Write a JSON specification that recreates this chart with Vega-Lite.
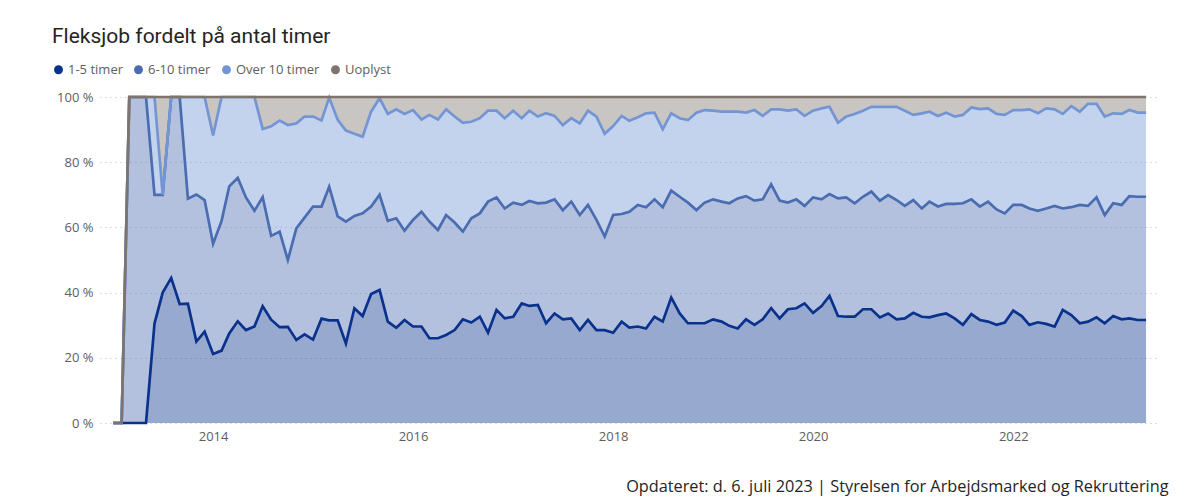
{
"$schema": "https://vega.github.io/schema/vega-lite/v6.json",
"width": 1057, "height": 326,
"autosize": {"type": "none"},
"padding": {"left": 100, "top": 97, "right": 42, "bottom": 74},
"background": "white",
"config": {"view": {"stroke": null}, "font": "Open Sans"},
"title": {"text": "Fleksjob fordelt på antal timer", "anchor": "start", "frame": "group", "orient": "top", "dx": -48, "offset": -1, "font": "Roboto", "fontSize": 21, "fontWeight": "normal", "color": "#252423", "baseline": "alphabetic"},
"data": {"values": [
{"t":"2013-01-01","k":"1-5 timer","v":0},{"t":"2013-01-01","k":"6-10 timer","v":0},{"t":"2013-01-01","k":"Over 10 timer","v":0},{"t":"2013-01-01","k":"Uoplyst","v":0},
{"t":"2013-02-01","k":"1-5 timer","v":0},{"t":"2013-02-01","k":"6-10 timer","v":0},{"t":"2013-02-01","k":"Over 10 timer","v":0},{"t":"2013-02-01","k":"Uoplyst","v":0},
{"t":"2013-03-01","k":"1-5 timer","v":0},{"t":"2013-03-01","k":"6-10 timer","v":100},{"t":"2013-03-01","k":"Over 10 timer","v":0},{"t":"2013-03-01","k":"Uoplyst","v":0},
{"t":"2013-04-01","k":"1-5 timer","v":0},{"t":"2013-04-01","k":"6-10 timer","v":100},{"t":"2013-04-01","k":"Over 10 timer","v":0},{"t":"2013-04-01","k":"Uoplyst","v":0},
{"t":"2013-05-01","k":"1-5 timer","v":0},{"t":"2013-05-01","k":"6-10 timer","v":100},{"t":"2013-05-01","k":"Over 10 timer","v":0},{"t":"2013-05-01","k":"Uoplyst","v":0},
{"t":"2013-06-01","k":"1-5 timer","v":30.5},{"t":"2013-06-01","k":"6-10 timer","v":39.5},{"t":"2013-06-01","k":"Over 10 timer","v":30},{"t":"2013-06-01","k":"Uoplyst","v":0},
{"t":"2013-07-01","k":"1-5 timer","v":40},{"t":"2013-07-01","k":"6-10 timer","v":30},{"t":"2013-07-01","k":"Over 10 timer","v":0},{"t":"2013-07-01","k":"Uoplyst","v":30},
{"t":"2013-08-01","k":"1-5 timer","v":44.5},{"t":"2013-08-01","k":"6-10 timer","v":55.5},{"t":"2013-08-01","k":"Over 10 timer","v":0},{"t":"2013-08-01","k":"Uoplyst","v":0},
{"t":"2013-09-01","k":"1-5 timer","v":36.5},{"t":"2013-09-01","k":"6-10 timer","v":63.5},{"t":"2013-09-01","k":"Over 10 timer","v":0},{"t":"2013-09-01","k":"Uoplyst","v":0},
{"t":"2013-10-01","k":"1-5 timer","v":36.6},{"t":"2013-10-01","k":"6-10 timer","v":32.2},{"t":"2013-10-01","k":"Over 10 timer","v":31.2},{"t":"2013-10-01","k":"Uoplyst","v":0},
{"t":"2013-11-01","k":"1-5 timer","v":25},{"t":"2013-11-01","k":"6-10 timer","v":45.1},{"t":"2013-11-01","k":"Over 10 timer","v":29.9},{"t":"2013-11-01","k":"Uoplyst","v":0},
{"t":"2013-12-01","k":"1-5 timer","v":28},{"t":"2013-12-01","k":"6-10 timer","v":40.4},{"t":"2013-12-01","k":"Over 10 timer","v":31.6},{"t":"2013-12-01","k":"Uoplyst","v":0},
{"t":"2014-01-01","k":"1-5 timer","v":21.2},{"t":"2014-01-01","k":"6-10 timer","v":33.8},{"t":"2014-01-01","k":"Over 10 timer","v":33.2},{"t":"2014-01-01","k":"Uoplyst","v":11.8},
{"t":"2014-02-01","k":"1-5 timer","v":22.2},{"t":"2014-02-01","k":"6-10 timer","v":39.8},{"t":"2014-02-01","k":"Over 10 timer","v":38},{"t":"2014-02-01","k":"Uoplyst","v":0},
{"t":"2014-03-01","k":"1-5 timer","v":27.5},{"t":"2014-03-01","k":"6-10 timer","v":45.1},{"t":"2014-03-01","k":"Over 10 timer","v":27.4},{"t":"2014-03-01","k":"Uoplyst","v":0},
{"t":"2014-04-01","k":"1-5 timer","v":31.2},{"t":"2014-04-01","k":"6-10 timer","v":44},{"t":"2014-04-01","k":"Over 10 timer","v":24.8},{"t":"2014-04-01","k":"Uoplyst","v":0},
{"t":"2014-05-01","k":"1-5 timer","v":28.5},{"t":"2014-05-01","k":"6-10 timer","v":40.7},{"t":"2014-05-01","k":"Over 10 timer","v":30.8},{"t":"2014-05-01","k":"Uoplyst","v":0},
{"t":"2014-06-01","k":"1-5 timer","v":29.6},{"t":"2014-06-01","k":"6-10 timer","v":35.5},{"t":"2014-06-01","k":"Over 10 timer","v":34.9},{"t":"2014-06-01","k":"Uoplyst","v":0},
{"t":"2014-07-01","k":"1-5 timer","v":35.8},{"t":"2014-07-01","k":"6-10 timer","v":33.5},{"t":"2014-07-01","k":"Over 10 timer","v":20.9},{"t":"2014-07-01","k":"Uoplyst","v":9.8},
{"t":"2014-08-01","k":"1-5 timer","v":31.7},{"t":"2014-08-01","k":"6-10 timer","v":25.7},{"t":"2014-08-01","k":"Over 10 timer","v":33.6},{"t":"2014-08-01","k":"Uoplyst","v":9},
{"t":"2014-09-01","k":"1-5 timer","v":29.4},{"t":"2014-09-01","k":"6-10 timer","v":29.3},{"t":"2014-09-01","k":"Over 10 timer","v":34.1},{"t":"2014-09-01","k":"Uoplyst","v":7.2},
{"t":"2014-10-01","k":"1-5 timer","v":29.5},{"t":"2014-10-01","k":"6-10 timer","v":20.5},{"t":"2014-10-01","k":"Over 10 timer","v":41.4},{"t":"2014-10-01","k":"Uoplyst","v":8.6},
{"t":"2014-11-01","k":"1-5 timer","v":25.5},{"t":"2014-11-01","k":"6-10 timer","v":34.2},{"t":"2014-11-01","k":"Over 10 timer","v":32.2},{"t":"2014-11-01","k":"Uoplyst","v":8.1},
{"t":"2014-12-01","k":"1-5 timer","v":27.2},{"t":"2014-12-01","k":"6-10 timer","v":35.8},{"t":"2014-12-01","k":"Over 10 timer","v":31},{"t":"2014-12-01","k":"Uoplyst","v":6},
{"t":"2015-01-01","k":"1-5 timer","v":25.6},{"t":"2015-01-01","k":"6-10 timer","v":40.8},{"t":"2015-01-01","k":"Over 10 timer","v":27.6},{"t":"2015-01-01","k":"Uoplyst","v":6},
{"t":"2015-02-01","k":"1-5 timer","v":32},{"t":"2015-02-01","k":"6-10 timer","v":34.4},{"t":"2015-02-01","k":"Over 10 timer","v":26.4},{"t":"2015-02-01","k":"Uoplyst","v":7.2},
{"t":"2015-03-01","k":"1-5 timer","v":31.5},{"t":"2015-03-01","k":"6-10 timer","v":41},{"t":"2015-03-01","k":"Over 10 timer","v":27.3},{"t":"2015-03-01","k":"Uoplyst","v":0.2},
{"t":"2015-04-01","k":"1-5 timer","v":31.5},{"t":"2015-04-01","k":"6-10 timer","v":31.9},{"t":"2015-04-01","k":"Over 10 timer","v":29.6},{"t":"2015-04-01","k":"Uoplyst","v":7},
{"t":"2015-05-01","k":"1-5 timer","v":24.4},{"t":"2015-05-01","k":"6-10 timer","v":37.4},{"t":"2015-05-01","k":"Over 10 timer","v":27.9},{"t":"2015-05-01","k":"Uoplyst","v":10.3},
{"t":"2015-06-01","k":"1-5 timer","v":35.2},{"t":"2015-06-01","k":"6-10 timer","v":28.3},{"t":"2015-06-01","k":"Over 10 timer","v":25.2},{"t":"2015-06-01","k":"Uoplyst","v":11.3},
{"t":"2015-07-01","k":"1-5 timer","v":32.8},{"t":"2015-07-01","k":"6-10 timer","v":31.5},{"t":"2015-07-01","k":"Over 10 timer","v":23.5},{"t":"2015-07-01","k":"Uoplyst","v":12.2},
{"t":"2015-08-01","k":"1-5 timer","v":39.6},{"t":"2015-08-01","k":"6-10 timer","v":26.8},{"t":"2015-08-01","k":"Over 10 timer","v":29.1},{"t":"2015-08-01","k":"Uoplyst","v":4.5},
{"t":"2015-09-01","k":"1-5 timer","v":40.8},{"t":"2015-09-01","k":"6-10 timer","v":29.2},{"t":"2015-09-01","k":"Over 10 timer","v":29.6},{"t":"2015-09-01","k":"Uoplyst","v":0.4},
{"t":"2015-10-01","k":"1-5 timer","v":31.1},{"t":"2015-10-01","k":"6-10 timer","v":30.9},{"t":"2015-10-01","k":"Over 10 timer","v":32.8},{"t":"2015-10-01","k":"Uoplyst","v":5.2},
{"t":"2015-11-01","k":"1-5 timer","v":29.2},{"t":"2015-11-01","k":"6-10 timer","v":33.6},{"t":"2015-11-01","k":"Over 10 timer","v":33.4},{"t":"2015-11-01","k":"Uoplyst","v":3.8},
{"t":"2015-12-01","k":"1-5 timer","v":31.6},{"t":"2015-12-01","k":"6-10 timer","v":27.4},{"t":"2015-12-01","k":"Over 10 timer","v":35.8},{"t":"2015-12-01","k":"Uoplyst","v":5.2},
{"t":"2016-01-01","k":"1-5 timer","v":29.6},{"t":"2016-01-01","k":"6-10 timer","v":32.7},{"t":"2016-01-01","k":"Over 10 timer","v":33.7},{"t":"2016-01-01","k":"Uoplyst","v":4},
{"t":"2016-02-01","k":"1-5 timer","v":29.6},{"t":"2016-02-01","k":"6-10 timer","v":35.2},{"t":"2016-02-01","k":"Over 10 timer","v":28.3},{"t":"2016-02-01","k":"Uoplyst","v":6.9},
{"t":"2016-03-01","k":"1-5 timer","v":26},{"t":"2016-03-01","k":"6-10 timer","v":35.8},{"t":"2016-03-01","k":"Over 10 timer","v":32.7},{"t":"2016-03-01","k":"Uoplyst","v":5.5},
{"t":"2016-04-01","k":"1-5 timer","v":26},{"t":"2016-04-01","k":"6-10 timer","v":33.2},{"t":"2016-04-01","k":"Over 10 timer","v":33.9},{"t":"2016-04-01","k":"Uoplyst","v":6.9},
{"t":"2016-05-01","k":"1-5 timer","v":27},{"t":"2016-05-01","k":"6-10 timer","v":36.8},{"t":"2016-05-01","k":"Over 10 timer","v":32.4},{"t":"2016-05-01","k":"Uoplyst","v":3.8},
{"t":"2016-06-01","k":"1-5 timer","v":28.5},{"t":"2016-06-01","k":"6-10 timer","v":33},{"t":"2016-06-01","k":"Over 10 timer","v":32.5},{"t":"2016-06-01","k":"Uoplyst","v":6},
{"t":"2016-07-01","k":"1-5 timer","v":31.8},{"t":"2016-07-01","k":"6-10 timer","v":26.9},{"t":"2016-07-01","k":"Over 10 timer","v":33.4},{"t":"2016-07-01","k":"Uoplyst","v":7.9},
{"t":"2016-08-01","k":"1-5 timer","v":30.8},{"t":"2016-08-01","k":"6-10 timer","v":32},{"t":"2016-08-01","k":"Over 10 timer","v":29.6},{"t":"2016-08-01","k":"Uoplyst","v":7.6},
{"t":"2016-09-01","k":"1-5 timer","v":32.6},{"t":"2016-09-01","k":"6-10 timer","v":31.7},{"t":"2016-09-01","k":"Over 10 timer","v":29.2},{"t":"2016-09-01","k":"Uoplyst","v":6.5},
{"t":"2016-10-01","k":"1-5 timer","v":27.7},{"t":"2016-10-01","k":"6-10 timer","v":40.2},{"t":"2016-10-01","k":"Over 10 timer","v":27.9},{"t":"2016-10-01","k":"Uoplyst","v":4.2},
{"t":"2016-11-01","k":"1-5 timer","v":34.7},{"t":"2016-11-01","k":"6-10 timer","v":34.5},{"t":"2016-11-01","k":"Over 10 timer","v":26.6},{"t":"2016-11-01","k":"Uoplyst","v":4.2},
{"t":"2016-12-01","k":"1-5 timer","v":32.1},{"t":"2016-12-01","k":"6-10 timer","v":33.7},{"t":"2016-12-01","k":"Over 10 timer","v":27.7},{"t":"2016-12-01","k":"Uoplyst","v":6.5},
{"t":"2017-01-01","k":"1-5 timer","v":32.6},{"t":"2017-01-01","k":"6-10 timer","v":35},{"t":"2017-01-01","k":"Over 10 timer","v":28.2},{"t":"2017-01-01","k":"Uoplyst","v":4.2},
{"t":"2017-02-01","k":"1-5 timer","v":36.7},{"t":"2017-02-01","k":"6-10 timer","v":30.2},{"t":"2017-02-01","k":"Over 10 timer","v":26.6},{"t":"2017-02-01","k":"Uoplyst","v":6.5},
{"t":"2017-03-01","k":"1-5 timer","v":35.9},{"t":"2017-03-01","k":"6-10 timer","v":32.2},{"t":"2017-03-01","k":"Over 10 timer","v":27.7},{"t":"2017-03-01","k":"Uoplyst","v":4.2},
{"t":"2017-04-01","k":"1-5 timer","v":36.2},{"t":"2017-04-01","k":"6-10 timer","v":31.2},{"t":"2017-04-01","k":"Over 10 timer","v":26.6},{"t":"2017-04-01","k":"Uoplyst","v":6},
{"t":"2017-05-01","k":"1-5 timer","v":30.6},{"t":"2017-05-01","k":"6-10 timer","v":37},{"t":"2017-05-01","k":"Over 10 timer","v":27.4},{"t":"2017-05-01","k":"Uoplyst","v":5},
{"t":"2017-06-01","k":"1-5 timer","v":33.6},{"t":"2017-06-01","k":"6-10 timer","v":35},{"t":"2017-06-01","k":"Over 10 timer","v":25.6},{"t":"2017-06-01","k":"Uoplyst","v":5.8},
{"t":"2017-07-01","k":"1-5 timer","v":31.8},{"t":"2017-07-01","k":"6-10 timer","v":33.5},{"t":"2017-07-01","k":"Over 10 timer","v":26.1},{"t":"2017-07-01","k":"Uoplyst","v":8.6},
{"t":"2017-08-01","k":"1-5 timer","v":32.1},{"t":"2017-08-01","k":"6-10 timer","v":35.8},{"t":"2017-08-01","k":"Over 10 timer","v":25.6},{"t":"2017-08-01","k":"Uoplyst","v":6.5},
{"t":"2017-09-01","k":"1-5 timer","v":28.5},{"t":"2017-09-01","k":"6-10 timer","v":35.3},{"t":"2017-09-01","k":"Over 10 timer","v":28.1},{"t":"2017-09-01","k":"Uoplyst","v":8.1},
{"t":"2017-10-01","k":"1-5 timer","v":31.6},{"t":"2017-10-01","k":"6-10 timer","v":35.3},{"t":"2017-10-01","k":"Over 10 timer","v":28.9},{"t":"2017-10-01","k":"Uoplyst","v":4.2},
{"t":"2017-11-01","k":"1-5 timer","v":28.5},{"t":"2017-11-01","k":"6-10 timer","v":33.8},{"t":"2017-11-01","k":"Over 10 timer","v":31.7},{"t":"2017-11-01","k":"Uoplyst","v":6},
{"t":"2017-12-01","k":"1-5 timer","v":28.5},{"t":"2017-12-01","k":"6-10 timer","v":28.7},{"t":"2017-12-01","k":"Over 10 timer","v":31.5},{"t":"2017-12-01","k":"Uoplyst","v":11.3},
{"t":"2018-01-01","k":"1-5 timer","v":27.7},{"t":"2018-01-01","k":"6-10 timer","v":36.1},{"t":"2018-01-01","k":"Over 10 timer","v":27.3},{"t":"2018-01-01","k":"Uoplyst","v":8.9},
{"t":"2018-02-01","k":"1-5 timer","v":31.1},{"t":"2018-02-01","k":"6-10 timer","v":33},{"t":"2018-02-01","k":"Over 10 timer","v":30.1},{"t":"2018-02-01","k":"Uoplyst","v":5.8},
{"t":"2018-03-01","k":"1-5 timer","v":29.3},{"t":"2018-03-01","k":"6-10 timer","v":35.5},{"t":"2018-03-01","k":"Over 10 timer","v":27.9},{"t":"2018-03-01","k":"Uoplyst","v":7.3},
{"t":"2018-04-01","k":"1-5 timer","v":29.6},{"t":"2018-04-01","k":"6-10 timer","v":37.3},{"t":"2018-04-01","k":"Over 10 timer","v":26.9},{"t":"2018-04-01","k":"Uoplyst","v":6.2},
{"t":"2018-05-01","k":"1-5 timer","v":29},{"t":"2018-05-01","k":"6-10 timer","v":37.2},{"t":"2018-05-01","k":"Over 10 timer","v":28.8},{"t":"2018-05-01","k":"Uoplyst","v":5},
{"t":"2018-06-01","k":"1-5 timer","v":32.6},{"t":"2018-06-01","k":"6-10 timer","v":36},{"t":"2018-06-01","k":"Over 10 timer","v":26.6},{"t":"2018-06-01","k":"Uoplyst","v":4.8},
{"t":"2018-07-01","k":"1-5 timer","v":31.1},{"t":"2018-07-01","k":"6-10 timer","v":35.1},{"t":"2018-07-01","k":"Over 10 timer","v":23.9},{"t":"2018-07-01","k":"Uoplyst","v":9.9},
{"t":"2018-08-01","k":"1-5 timer","v":38.5},{"t":"2018-08-01","k":"6-10 timer","v":32.8},{"t":"2018-08-01","k":"Over 10 timer","v":23.7},{"t":"2018-08-01","k":"Uoplyst","v":5},
{"t":"2018-09-01","k":"1-5 timer","v":33.6},{"t":"2018-09-01","k":"6-10 timer","v":35.8},{"t":"2018-09-01","k":"Over 10 timer","v":24.1},{"t":"2018-09-01","k":"Uoplyst","v":6.5},
{"t":"2018-10-01","k":"1-5 timer","v":30.6},{"t":"2018-10-01","k":"6-10 timer","v":37},{"t":"2018-10-01","k":"Over 10 timer","v":25.3},{"t":"2018-10-01","k":"Uoplyst","v":7.1},
{"t":"2018-11-01","k":"1-5 timer","v":30.6},{"t":"2018-11-01","k":"6-10 timer","v":34.7},{"t":"2018-11-01","k":"Over 10 timer","v":29.9},{"t":"2018-11-01","k":"Uoplyst","v":4.8},
{"t":"2018-12-01","k":"1-5 timer","v":30.6},{"t":"2018-12-01","k":"6-10 timer","v":37},{"t":"2018-12-01","k":"Over 10 timer","v":28.4},{"t":"2018-12-01","k":"Uoplyst","v":4},
{"t":"2019-01-01","k":"1-5 timer","v":31.8},{"t":"2019-01-01","k":"6-10 timer","v":36.8},{"t":"2019-01-01","k":"Over 10 timer","v":27.2},{"t":"2019-01-01","k":"Uoplyst","v":4.2},
{"t":"2019-02-01","k":"1-5 timer","v":31.1},{"t":"2019-02-01","k":"6-10 timer","v":36.8},{"t":"2019-02-01","k":"Over 10 timer","v":27.6},{"t":"2019-02-01","k":"Uoplyst","v":4.5},
{"t":"2019-03-01","k":"1-5 timer","v":29.8},{"t":"2019-03-01","k":"6-10 timer","v":37.6},{"t":"2019-03-01","k":"Over 10 timer","v":28.1},{"t":"2019-03-01","k":"Uoplyst","v":4.5},
{"t":"2019-04-01","k":"1-5 timer","v":29},{"t":"2019-04-01","k":"6-10 timer","v":39.9},{"t":"2019-04-01","k":"Over 10 timer","v":26.6},{"t":"2019-04-01","k":"Uoplyst","v":4.5},
{"t":"2019-05-01","k":"1-5 timer","v":31.8},{"t":"2019-05-01","k":"6-10 timer","v":37.8},{"t":"2019-05-01","k":"Over 10 timer","v":25.6},{"t":"2019-05-01","k":"Uoplyst","v":4.8},
{"t":"2019-06-01","k":"1-5 timer","v":30.1},{"t":"2019-06-01","k":"6-10 timer","v":38.1},{"t":"2019-06-01","k":"Over 10 timer","v":27.8},{"t":"2019-06-01","k":"Uoplyst","v":4},
{"t":"2019-07-01","k":"1-5 timer","v":31.8},{"t":"2019-07-01","k":"6-10 timer","v":36.8},{"t":"2019-07-01","k":"Over 10 timer","v":25.6},{"t":"2019-07-01","k":"Uoplyst","v":5.8},
{"t":"2019-08-01","k":"1-5 timer","v":35.2},{"t":"2019-08-01","k":"6-10 timer","v":38},{"t":"2019-08-01","k":"Over 10 timer","v":23},{"t":"2019-08-01","k":"Uoplyst","v":3.8},
{"t":"2019-09-01","k":"1-5 timer","v":32.1},{"t":"2019-09-01","k":"6-10 timer","v":36.1},{"t":"2019-09-01","k":"Over 10 timer","v":28},{"t":"2019-09-01","k":"Uoplyst","v":3.8},
{"t":"2019-10-01","k":"1-5 timer","v":34.9},{"t":"2019-10-01","k":"6-10 timer","v":32.7},{"t":"2019-10-01","k":"Over 10 timer","v":28.2},{"t":"2019-10-01","k":"Uoplyst","v":4.2},
{"t":"2019-11-01","k":"1-5 timer","v":35.2},{"t":"2019-11-01","k":"6-10 timer","v":33.4},{"t":"2019-11-01","k":"Over 10 timer","v":27.6},{"t":"2019-11-01","k":"Uoplyst","v":3.8},
{"t":"2019-12-01","k":"1-5 timer","v":36.7},{"t":"2019-12-01","k":"6-10 timer","v":29.9},{"t":"2019-12-01","k":"Over 10 timer","v":27.6},{"t":"2019-12-01","k":"Uoplyst","v":5.8},
{"t":"2020-01-01","k":"1-5 timer","v":33.8},{"t":"2020-01-01","k":"6-10 timer","v":35.4},{"t":"2020-01-01","k":"Over 10 timer","v":26.6},{"t":"2020-01-01","k":"Uoplyst","v":4.2},
{"t":"2020-02-01","k":"1-5 timer","v":35.9},{"t":"2020-02-01","k":"6-10 timer","v":32.7},{"t":"2020-02-01","k":"Over 10 timer","v":27.9},{"t":"2020-02-01","k":"Uoplyst","v":3.5},
{"t":"2020-03-01","k":"1-5 timer","v":39},{"t":"2020-03-01","k":"6-10 timer","v":31.2},{"t":"2020-03-01","k":"Over 10 timer","v":26.8},{"t":"2020-03-01","k":"Uoplyst","v":3},
{"t":"2020-04-01","k":"1-5 timer","v":32.8},{"t":"2020-04-01","k":"6-10 timer","v":36.1},{"t":"2020-04-01","k":"Over 10 timer","v":23.2},{"t":"2020-04-01","k":"Uoplyst","v":7.9},
{"t":"2020-05-01","k":"1-5 timer","v":32.6},{"t":"2020-05-01","k":"6-10 timer","v":36.6},{"t":"2020-05-01","k":"Over 10 timer","v":24.8},{"t":"2020-05-01","k":"Uoplyst","v":6},
{"t":"2020-06-01","k":"1-5 timer","v":32.6},{"t":"2020-06-01","k":"6-10 timer","v":34.8},{"t":"2020-06-01","k":"Over 10 timer","v":27.4},{"t":"2020-06-01","k":"Uoplyst","v":5.2},
{"t":"2020-07-01","k":"1-5 timer","v":34.9},{"t":"2020-07-01","k":"6-10 timer","v":34.5},{"t":"2020-07-01","k":"Over 10 timer","v":26.4},{"t":"2020-07-01","k":"Uoplyst","v":4.2},
{"t":"2020-08-01","k":"1-5 timer","v":34.9},{"t":"2020-08-01","k":"6-10 timer","v":36.1},{"t":"2020-08-01","k":"Over 10 timer","v":26},{"t":"2020-08-01","k":"Uoplyst","v":3},
{"t":"2020-09-01","k":"1-5 timer","v":32.4},{"t":"2020-09-01","k":"6-10 timer","v":35.8},{"t":"2020-09-01","k":"Over 10 timer","v":28.8},{"t":"2020-09-01","k":"Uoplyst","v":3},
{"t":"2020-10-01","k":"1-5 timer","v":33.6},{"t":"2020-10-01","k":"6-10 timer","v":36.3},{"t":"2020-10-01","k":"Over 10 timer","v":27.1},{"t":"2020-10-01","k":"Uoplyst","v":3},
{"t":"2020-11-01","k":"1-5 timer","v":31.8},{"t":"2020-11-01","k":"6-10 timer","v":36.6},{"t":"2020-11-01","k":"Over 10 timer","v":28.6},{"t":"2020-11-01","k":"Uoplyst","v":3},
{"t":"2020-12-01","k":"1-5 timer","v":32.1},{"t":"2020-12-01","k":"6-10 timer","v":34.5},{"t":"2020-12-01","k":"Over 10 timer","v":29.2},{"t":"2020-12-01","k":"Uoplyst","v":4.2},
{"t":"2021-01-01","k":"1-5 timer","v":33.8},{"t":"2021-01-01","k":"6-10 timer","v":34.6},{"t":"2021-01-01","k":"Over 10 timer","v":26.1},{"t":"2021-01-01","k":"Uoplyst","v":5.5},
{"t":"2021-02-01","k":"1-5 timer","v":32.6},{"t":"2021-02-01","k":"6-10 timer","v":33.2},{"t":"2021-02-01","k":"Over 10 timer","v":29.2},{"t":"2021-02-01","k":"Uoplyst","v":5},
{"t":"2021-03-01","k":"1-5 timer","v":32.4},{"t":"2021-03-01","k":"6-10 timer","v":35.5},{"t":"2021-03-01","k":"Over 10 timer","v":27.6},{"t":"2021-03-01","k":"Uoplyst","v":4.5},
{"t":"2021-04-01","k":"1-5 timer","v":33.1},{"t":"2021-04-01","k":"6-10 timer","v":33.3},{"t":"2021-04-01","k":"Over 10 timer","v":27.8},{"t":"2021-04-01","k":"Uoplyst","v":5.8},
{"t":"2021-05-01","k":"1-5 timer","v":33.6},{"t":"2021-05-01","k":"6-10 timer","v":33.6},{"t":"2021-05-01","k":"Over 10 timer","v":28},{"t":"2021-05-01","k":"Uoplyst","v":4.8},
{"t":"2021-06-01","k":"1-5 timer","v":32.1},{"t":"2021-06-01","k":"6-10 timer","v":35.1},{"t":"2021-06-01","k":"Over 10 timer","v":26.8},{"t":"2021-06-01","k":"Uoplyst","v":6},
{"t":"2021-07-01","k":"1-5 timer","v":30.1},{"t":"2021-07-01","k":"6-10 timer","v":37.3},{"t":"2021-07-01","k":"Over 10 timer","v":27.1},{"t":"2021-07-01","k":"Uoplyst","v":5.5},
{"t":"2021-08-01","k":"1-5 timer","v":33.4},{"t":"2021-08-01","k":"6-10 timer","v":35.2},{"t":"2021-08-01","k":"Over 10 timer","v":28.2},{"t":"2021-08-01","k":"Uoplyst","v":3.2},
{"t":"2021-09-01","k":"1-5 timer","v":31.6},{"t":"2021-09-01","k":"6-10 timer","v":34.8},{"t":"2021-09-01","k":"Over 10 timer","v":29.9},{"t":"2021-09-01","k":"Uoplyst","v":3.7},
{"t":"2021-10-01","k":"1-5 timer","v":31.1},{"t":"2021-10-01","k":"6-10 timer","v":36.8},{"t":"2021-10-01","k":"Over 10 timer","v":28.6},{"t":"2021-10-01","k":"Uoplyst","v":3.5},
{"t":"2021-11-01","k":"1-5 timer","v":30.1},{"t":"2021-11-01","k":"6-10 timer","v":35.4},{"t":"2021-11-01","k":"Over 10 timer","v":29.3},{"t":"2021-11-01","k":"Uoplyst","v":5.2},
{"t":"2021-12-01","k":"1-5 timer","v":30.8},{"t":"2021-12-01","k":"6-10 timer","v":33.5},{"t":"2021-12-01","k":"Over 10 timer","v":30.2},{"t":"2021-12-01","k":"Uoplyst","v":5.5},
{"t":"2022-01-01","k":"1-5 timer","v":34.5},{"t":"2022-01-01","k":"6-10 timer","v":32.4},{"t":"2022-01-01","k":"Over 10 timer","v":29.1},{"t":"2022-01-01","k":"Uoplyst","v":4},
{"t":"2022-02-01","k":"1-5 timer","v":32.8},{"t":"2022-02-01","k":"6-10 timer","v":34.1},{"t":"2022-02-01","k":"Over 10 timer","v":29.1},{"t":"2022-02-01","k":"Uoplyst","v":4},
{"t":"2022-03-01","k":"1-5 timer","v":30.1},{"t":"2022-03-01","k":"6-10 timer","v":35.7},{"t":"2022-03-01","k":"Over 10 timer","v":30.4},{"t":"2022-03-01","k":"Uoplyst","v":3.8},
{"t":"2022-04-01","k":"1-5 timer","v":30.9},{"t":"2022-04-01","k":"6-10 timer","v":34.2},{"t":"2022-04-01","k":"Over 10 timer","v":29.9},{"t":"2022-04-01","k":"Uoplyst","v":5},
{"t":"2022-05-01","k":"1-5 timer","v":30.4},{"t":"2022-05-01","k":"6-10 timer","v":35.4},{"t":"2022-05-01","k":"Over 10 timer","v":30.7},{"t":"2022-05-01","k":"Uoplyst","v":3.5},
{"t":"2022-06-01","k":"1-5 timer","v":29.6},{"t":"2022-06-01","k":"6-10 timer","v":37},{"t":"2022-06-01","k":"Over 10 timer","v":29.6},{"t":"2022-06-01","k":"Uoplyst","v":3.8},
{"t":"2022-07-01","k":"1-5 timer","v":34.7},{"t":"2022-07-01","k":"6-10 timer","v":31.1},{"t":"2022-07-01","k":"Over 10 timer","v":29},{"t":"2022-07-01","k":"Uoplyst","v":5.2},
{"t":"2022-08-01","k":"1-5 timer","v":33.1},{"t":"2022-08-01","k":"6-10 timer","v":33.1},{"t":"2022-08-01","k":"Over 10 timer","v":31},{"t":"2022-08-01","k":"Uoplyst","v":2.8},
{"t":"2022-09-01","k":"1-5 timer","v":30.6},{"t":"2022-09-01","k":"6-10 timer","v":36.3},{"t":"2022-09-01","k":"Over 10 timer","v":28.6},{"t":"2022-09-01","k":"Uoplyst","v":4.5},
{"t":"2022-10-01","k":"1-5 timer","v":31.1},{"t":"2022-10-01","k":"6-10 timer","v":35.5},{"t":"2022-10-01","k":"Over 10 timer","v":31.3},{"t":"2022-10-01","k":"Uoplyst","v":2.1},
{"t":"2022-11-01","k":"1-5 timer","v":32.4},{"t":"2022-11-01","k":"6-10 timer","v":36.8},{"t":"2022-11-01","k":"Over 10 timer","v":28.7},{"t":"2022-11-01","k":"Uoplyst","v":2.1},
{"t":"2022-12-01","k":"1-5 timer","v":30.6},{"t":"2022-12-01","k":"6-10 timer","v":33.2},{"t":"2022-12-01","k":"Over 10 timer","v":30.2},{"t":"2022-12-01","k":"Uoplyst","v":6},
{"t":"2023-01-01","k":"1-5 timer","v":32.8},{"t":"2023-01-01","k":"6-10 timer","v":34.6},{"t":"2023-01-01","k":"Over 10 timer","v":27.6},{"t":"2023-01-01","k":"Uoplyst","v":5},
{"t":"2023-02-01","k":"1-5 timer","v":31.8},{"t":"2023-02-01","k":"6-10 timer","v":35.1},{"t":"2023-02-01","k":"Over 10 timer","v":27.9},{"t":"2023-02-01","k":"Uoplyst","v":5.2},
{"t":"2023-03-01","k":"1-5 timer","v":32.1},{"t":"2023-03-01","k":"6-10 timer","v":37.5},{"t":"2023-03-01","k":"Over 10 timer","v":26.4},{"t":"2023-03-01","k":"Uoplyst","v":4},
{"t":"2023-04-01","k":"1-5 timer","v":31.6},{"t":"2023-04-01","k":"6-10 timer","v":37.8},{"t":"2023-04-01","k":"Over 10 timer","v":25.8},{"t":"2023-04-01","k":"Uoplyst","v":4.8},
{"t":"2023-05-01","k":"1-5 timer","v":31.6},{"t":"2023-05-01","k":"6-10 timer","v":37.8},{"t":"2023-05-01","k":"Over 10 timer","v":25.8},{"t":"2023-05-01","k":"Uoplyst","v":4.8}
]},
"transform": [{"stack": "v", "groupby": ["t"], "sort": [{"field": "k", "order": "ascending"}], "as": ["v0", "v1"]}],
"encoding": {
  "x": {"field": "t", "type": "temporal",
    "scale": {"type": "utc", "domain": [{"year": 2012, "month": 11, "date": 14, "utc": true}, {"year": 2023, "month": 6, "date": 10, "utc": true}]},
    "axis": {"values": [{"year": 2014, "utc": true}, {"year": 2016, "utc": true}, {"year": 2018, "utc": true}, {"year": 2020, "utc": true}, {"year": 2022, "utc": true}],
      "format": "%Y", "formatType": "utc", "domain": false, "ticks": false, "grid": false,
      "labelFont": "Open Sans", "labelFontSize": 13, "labelColor": "#605e5c", "labelPadding": 7,
      "title": "Opdateret: d. 6. juli 2023 | Styrelsen for Arbejdsmarked og Rekruttering",
      "titleFont": "Open Sans", "titleFontSize": 16.3, "titleFontWeight": "normal", "titleColor": "#252423",
      "titleAnchor": "end", "titleAlign": "right", "titleX": 1068, "titleY": 68, "titleBaseline": "alphabetic"}},
  "color": {"field": "k", "type": "nominal",
    "scale": {"domain": ["1-5 timer", "6-10 timer", "Over 10 timer", "Uoplyst"], "range": ["#0a328d", "#4a6cb0", "#7395d3", "#7d756d"]}}
},
"layer": [
  {"mark": {"type": "area", "fillOpacity": 0.42},
   "encoding": {
     "y": {"field": "v1", "type": "quantitative", "scale": {"domain": [0, 100], "nice": false},
       "axis": {"title": null, "values": [0, 20, 40, 60, 80, 100], "labelExpr": "datum.value + ' %'", "domain": false, "ticks": false, "grid": true, "gridDash": [1, 4], "gridColor": "#bcbcbc", "labelFont": "Open Sans", "labelFontSize": 13, "labelColor": "#605e5c", "labelPadding": 7}},
     "y2": {"field": "v0"},
     "color": {"field": "k", "type": "nominal",
       "legend": {"title": null, "orient": "none", "legendX": -48, "legendY": -34, "direction": "horizontal", "columns": 4, "symbolType": "circle", "symbolSize": 80, "symbolOpacity": 1, "symbolStrokeWidth": 0, "labelFont": "Open Sans", "labelFontSize": 13, "labelColor": "#605e5c", "labelOffset": 3, "columnPadding": 9, "padding": 0}}
   }},
  {"mark": {"type": "line", "strokeWidth": 2.7},
   "encoding": {
     "y": {"field": "v1", "type": "quantitative"},
     "color": {"field": "k", "type": "nominal", "legend": null}
   }}
]
}
